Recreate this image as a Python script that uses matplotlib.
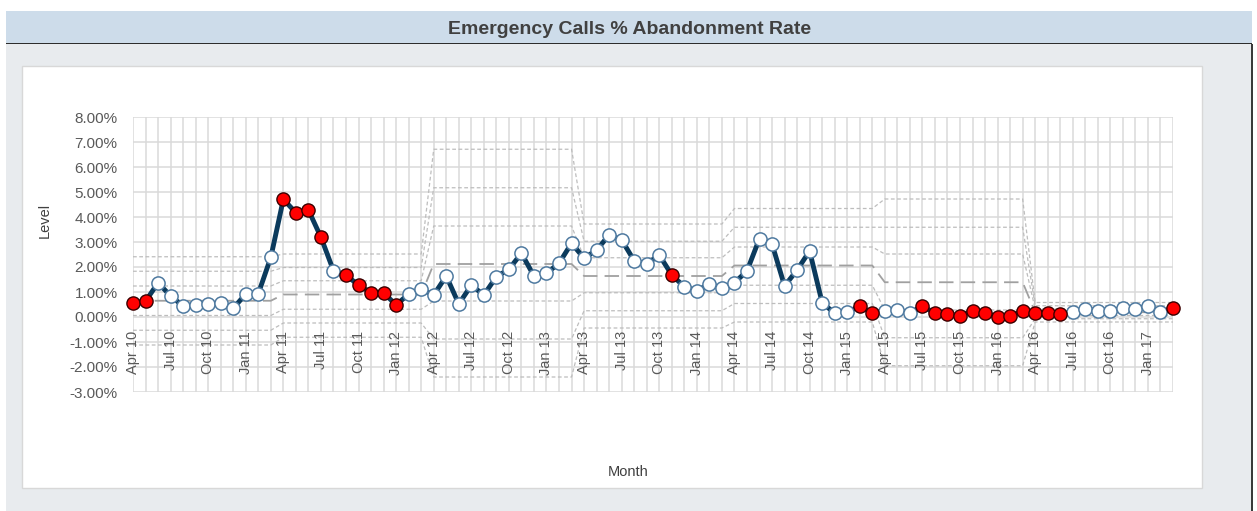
import matplotlib
matplotlib.use("Agg")
import matplotlib.pyplot as plt
from matplotlib.patches import Rectangle
import numpy as np
import pandas as pd

plt.rcParams['font.family'] = ['Liberation Sans', 'DejaVu Sans']

# monthly abandonment rate (%), Apr 2010 .. Mar 2017
rate = [0.57, 0.63, 1.37, 0.84, 0.44, 0.49, 0.52, 0.57, 0.35, 0.92, 0.93, 2.39,
        4.71, 4.17, 4.28, 3.19, 1.85, 1.68, 1.27, 0.97, 0.97, 0.48, 0.92, 1.11,
        0.88, 1.64, 0.52, 1.27, 0.88, 1.61, 1.91, 2.55, 1.64, 1.75, 2.15, 2.95,
        2.35, 2.68, 3.28, 3.08, 2.25, 2.12, 2.48, 1.68, 1.21, 1.05, 1.32, 1.15,
        1.37, 1.84, 3.14, 2.92, 1.24, 1.88, 2.64, 0.57, 0.15, 0.19, 0.44, 0.15,
        0.25, 0.28, 0.15, 0.44, 0.15, 0.11, 0.04, 0.25, 0.15, 0.01, 0.04, 0.24,
        0.15, 0.15, 0.11, 0.19, 0.31, 0.25, 0.25, 0.35, 0.31, 0.44, 0.20, 0.35]

# 1 = special cause (red marker)
signal = [1, 1, 0, 0, 0, 0, 0, 0, 0, 0, 0, 0,
          1, 1, 1, 1, 0, 1, 1, 1, 1, 1, 0, 0,
          0, 0, 0, 0, 0, 0, 0, 0, 0, 0, 0, 0,
          0, 0, 0, 0, 0, 0, 0, 1, 0, 0, 0, 0,
          0, 0, 0, 0, 0, 0, 0, 0, 0, 0, 1, 1,
          0, 0, 0, 1, 1, 1, 1, 1, 1, 1, 1, 1,
          1, 1, 1, 0, 0, 0, 0, 0, 0, 0, 0, 1]

# limits per 12-month phase: +3s, +2s, +1s, mean, -1s, -2s, -3s
phase_len = [12, 12, 12, 12, 12, 12, 12]
limits = [
    [2.41, 1.83, 1.24, 0.65, 0.06, -0.53, -1.12],
    [2.52, 1.98, 1.45, 0.90, 0.31, -0.24, -0.81],
    [6.71, 5.17, 3.64, 2.12, 0.64, -0.88, -2.40],
    [3.72, 3.03, 2.37, 1.64, 0.97, 0.25, -0.44],
    [4.34, 3.59, 2.80, 2.06, 1.27, 0.54, -0.20],
    [4.72, 3.59, 2.52, 1.39, 0.28, -0.83, -1.95],
    [0.58, 0.45, 0.32, 0.19, 0.06, -0.07, -0.20],
]

months = pd.date_range('2010-04-01', periods=len(rate), freq='MS')
month_labels = [m.strftime('%b %y') for m in months]
y_ticks = [-3, -2, -1, 0, 1, 2, 3, 4, 5, 6, 7, 8]

W, H = 1257, 511
fig = plt.figure(figsize=(W / 100, H / 100), dpi=100)
fig.patch.set_facecolor('white')

def box(x0, y0, x1, y1, **kw):
    # pixel box (top-left origin) -> figure fraction, kept behind the axes
    r = Rectangle((x0 / W, 1 - y1 / H), (x1 - x0) / W, (y1 - y0) / H,
                  transform=fig.transFigure, zorder=-10, **kw)
    fig.add_artist(r)

box(6, 11, 1252, 43.5, facecolor='#cddcea', edgecolor='none')
box(6, 43.5, 1252, 511, facecolor='#e8ebee', edgecolor='none')
box(6, 43, 1252, 44.2, facecolor='#2d2d2d', edgecolor='none')
box(1251, 44, 1253, 511, facecolor='#3a3a3a', edgecolor='none')
box(22, 66, 1202, 487.5, facecolor='white', edgecolor='#d8d8d8', linewidth=1)

fig.text(630 / W, 1 - 29 / H, 'Emergency Calls % Abandonment Rate',
         ha='center', va='center', fontsize=14, fontweight='bold', color='#404040')

ax = fig.add_axes([133 / W, 1 - 392 / H, (1173 - 133) / W, (392 - 117) / H])
ax.set_facecolor('white')
x = np.arange(len(rate))
ax.set_xlim(0, len(rate) - 1)
ax.set_ylim(-3, 8)

ax.set_xticks(x)
ax.set_xticklabels([])
ax.set_yticks(y_ticks)
ax.set_yticklabels(['%.2f%%' % v for v in y_ticks])
ax.tick_params(length=0, pad=11, labelsize=11, labelcolor='#595959')
ax.grid(True, color='#dadada', linewidth=1.1)
ax.set_axisbelow(True)
for s in ax.spines.values():
    s.set_visible(False)

# control limit lines
lim = np.repeat(np.array(limits), phase_len, axis=0)
for k in range(lim.shape[1]):
    if k == 3:
        ax.plot(x, lim[:, k], color='#a0a0a0', lw=1.3, dashes=(8, 4), zorder=2)
    else:
        ax.plot(x, lim[:, k], color='#bdbdbd', lw=0.9, dashes=(3, 2), zorder=2)

rate_a = np.array(rate)
sig = np.array(signal) == 1
ax.plot(x, rate_a, color='#0b3a5c', lw=3.5, zorder=3, solid_joinstyle='round')
ax.plot(x[~sig], rate_a[~sig], ls='none', marker='o', ms=9.5,
        mfc='white', mec='#4f7aa0', mew=1.1, zorder=4, clip_on=False)
ax.plot(x[sig], rate_a[sig], ls='none', marker='o', ms=9.5,
        mfc='#ff0000', mec='#3a0000', mew=1.0, zorder=5, clip_on=False)

# month labels hang just under the zero line, every quarter
for i in range(0, len(rate), 3):
    ax.annotate(month_labels[i], (i, 0), xytext=(0, -10), textcoords='offset points',
                rotation=90, ha='center', va='top', fontsize=10.5, color='#595959')

fig.text(45 / W, 1 - 220 / H, 'Level', rotation=90, ha='center', va='center',
         fontsize=10.5, color='#404040')
fig.text(628 / W, 1 - 472 / H, 'Month', ha='center', va='center',
         fontsize=10.5, color='#404040')

fig.savefig('out.png', dpi=100)
